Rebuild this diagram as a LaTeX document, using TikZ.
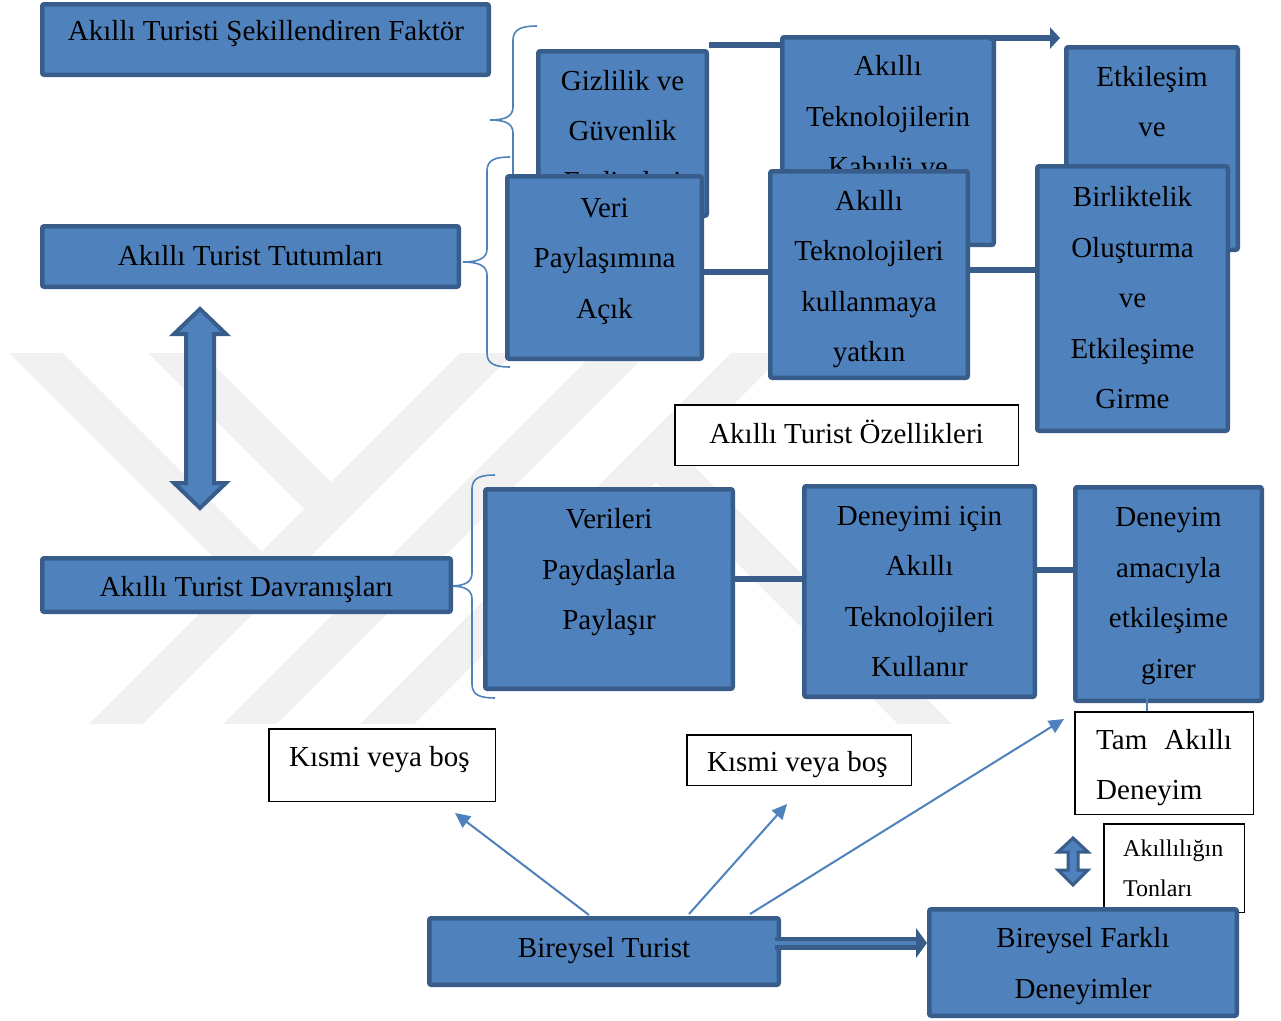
\documentclass[tikz,border=0pt]{standalone}
\usepackage{fontspec}
\setmainfont{Liberation Serif}
\usetikzlibrary{calc,arrows.meta}
\definecolor{bfill}{HTML}{4F81BD}
\definecolor{bdark}{HTML}{385D8A}
\definecolor{wmgray}{HTML}{F1F1F1}
\tikzset{
  bluebox/.style={draw=bdark, fill=bfill, line width=4.5pt, rounded corners=2pt, inner sep=0pt},
  whitebox/.style={draw=black, fill=white, line width=1.5pt, inner sep=0pt},
  txt/.style={font=\fontsize{29}{50.5}\selectfont, align=center, inner sep=0pt},
  txtl/.style={font=\fontsize{29}{50}\selectfont, align=left, inner sep=0pt, anchor=west},
  conn/.style={draw=bdark, line width=6.5pt},
  bigtip/.style={draw=bdark, line width=6pt, -{Triangle[length=10pt,width=21pt]}},
  thinarrow/.style={draw=bfill, line width=2pt, -{Triangle[length=15pt,width=14pt]}},
  thinline/.style={draw=bfill, line width=1.2pt},
  brace/.style={draw=bfill, line width=1.6pt},
  band/.style={draw=wmgray, line width=38pt},
  bigarr/.style={draw=bdark, fill=bfill, line width=4pt, line join=miter},
  smallarr/.style={draw=bdark, fill=bfill, line width=3pt, line join=miter},
  dblline/.style={draw=bdark, double=bfill, line width=4.5pt, double distance=4pt},
}
\begin{document}
\begin{tikzpicture}[x=1pt,y=-1pt]
\useasboundingbox (0,0) rectangle (1281,1020);
\fill[white] (0,0) rectangle (1281,1020);

% faint watermark
\begin{scope}
  \clip (0,353) rectangle (1281,723);
  \draw[band] (-4,313) -- (261,578);
  \draw[band] (135,313) -- (331,509);
  \draw[band] (77,763) -- (527,313);
  \draw[band] (211,763) -- (661,313);
  \draw[band] (348,763) -- (798,313);
  \draw[band] (656,455) -- (964,763);
\end{scope}

% braces
\draw[brace] (537,26) .. controls (522,26) and (513,29) .. (513,40) -- (513,107)
  .. controls (513,116) and (506,120) .. (490,120)
  .. controls (506,120) and (513,124) .. (513,133) -- (513,200)
  .. controls (513,211) and (522,214) .. (537,214);
\draw[brace] (510,157) .. controls (495,157) and (487,160) .. (487,171) -- (487,249)
  .. controls (487,258) and (479,262) .. (463,262)
  .. controls (479,262) and (487,266) .. (487,275) -- (487,353)
  .. controls (487,364) and (495,367) .. (510,367);
\draw[brace] (495,475) .. controls (480,475) and (472,478) .. (472,489) -- (472,573)
  .. controls (472,582) and (465,586) .. (450,586)
  .. controls (465,586) and (472,590) .. (472,599) -- (472,684)
  .. controls (472,695) and (480,698) .. (495,698);

% left column
\node[bluebox, minimum width=446.5pt, minimum height=70.5pt] (fak) at (265.5,39.5) {};
\node[txt] (fakt) at (266,34) {Akıllı Turisti Şekillendiren Faktör};
\node[bluebox, minimum width=416.5pt, minimum height=60.5pt] (tut) at (250.5,256.5) {};
\node[txt] (tutt) at (250.5,256) {Akıllı Turist Tutumları};
\node[bluebox, minimum width=408.5pt, minimum height=53.5pt] (dav) at (246.5,585) {};
\node[txt] (davt) at (246.5,590) {Akıllı Turist Davranışları};

% big double arrow
\coordinate (da) at (200,408.5);
\draw[bigarr] ($(da)+(0,-99.5)$) -- ($(da)+(26,-74.5)$) -- ($(da)+(14,-74.5)$) -- ($(da)+(14,74.5)$)
  -- ($(da)+(26,74.5)$) -- ($(da)+(0,99.5)$) -- ($(da)+(-26,74.5)$) -- ($(da)+(-14,74.5)$)
  -- ($(da)+(-14,-74.5)$) -- ($(da)+(-26,-74.5)$) -- cycle;

% top row (back)
\node[bluebox, minimum width=168.5pt, minimum height=164.5pt] (giz) at (622.5,133.5) {};
\node[txt] (gizt) at (622.5,134) {Gizlilik ve\\Güvenlik\\Endişeleri};
\coordinate (c1) at ($(giz.north east)+(0,-4)$);
\node[bluebox, minimum width=211.5pt, minimum height=207.5pt] (kab) at (888,141) {};
\draw[conn] (c1) -- (c1 -| kab.west);
\node[txt] (kabt) at (888,116.5) {Akıllı\\Teknolojilerin\\Kabulü ve};
\node[bluebox, minimum width=171.5pt, minimum height=202.5pt] (etk) at (1152,148.5) {};
\node[txt] (etkt) at (1152,101.5) {Etkileşim\\ve};
\coordinate (c2) at ($(kab.north east)+(-7,3)$);
\draw[bigtip] (c2) -- ($(c2 -| etk.west)+(-4,0)$);

% top row (front)
\node[bluebox, minimum width=194.5pt, minimum height=182.5pt] (veri) at (604.5,267.5) {};
\node[txt] (verit) at (604.5,261) {Veri\\Paylaşımına\\Açık};
\node[bluebox, minimum width=197.5pt, minimum height=206.5pt] (yat) at (869,274.5) {};
\node[txt] (yatt) at (869,279) {Akıllı\\Teknolojileri\\kullanmaya\\yatkın};
\node[bluebox, minimum width=190.5pt, minimum height=264.5pt] (bir) at (1132.5,298.5) {};
\node[txt] (birt) at (1132.5,298) {Birliktelik\\Oluşturma\\ve\\Etkileşime\\Girme};
\coordinate (c3) at ($(veri.east)+(0,4.5)$);
\draw[conn] (c3) -- (c3 -| yat.west);
\coordinate (c4) at ($(yat.east)+(0,-4.5)$);
\draw[conn] (c4) -- (c4 -| bir.west);

\node[whitebox, minimum width=343.5pt, minimum height=60.5pt] (oz) at (846.5,435) {};
\node[txt] (ozt) at (846.5,432) {Akıllı Turist Özellikleri};

% second row
\node[bluebox, minimum width=247.5pt, minimum height=199.5pt] (ver) at (609,589) {};
\node[txt] (vert) at (609,572.5) {Verileri\\Paydaşlarla\\Paylaşır};
\node[bluebox, minimum width=230.5pt, minimum height=210.5pt] (den) at (919.5,591.5) {};
\node[txt] (dent) at (919.5,591.5) {Deneyimi için\\Akıllı\\Teknolojileri\\Kullanır};
\node[bluebox, minimum width=186.5pt, minimum height=213.5pt] (dam) at (1168.5,594) {};
\node[txt] (damt) at (1168.5,596) {Deneyim\\amacıyla\\etkileşime\\girer};
\coordinate (c5) at ($(ver.east)+(0,-10)$);
\draw[conn] (c5) -- (c5 -| den.west);
\coordinate (c6) at ($(den.east)+(0,-21.5)$);
\draw[conn] (c6) -- (c6 -| dam.west);

% right bottom
\node[whitebox, minimum width=178.5pt, minimum height=102.5pt] (tam) at (1164,763) {};
\node[txtl] (tamt) at (1096,768) {Tam\hspace{17pt}Akıllı\\Deneyim};
\coordinate (c7) at ($(dam.south)+(-21.5,-14)$);
\draw[thinline] (c7) -- (c7 |- tam.north);
\node[whitebox, minimum width=140.5pt, minimum height=88.5pt] (ton) at (1174,868) {};
\node[txtl, font=\fontsize{24}{40}\selectfont] (tont) at (1123,868) {Akıllılığın\\Tonları};
\coordinate (sa) at (1073,861.5);
\draw[smallarr] ($(sa)+(0,-23.5)$) -- ($(sa)+(15,-9.5)$) -- ($(sa)+(5,-9.5)$) -- ($(sa)+(5,8.5)$)
  -- ($(sa)+(15,8.5)$) -- ($(sa)+(0,23.5)$) -- ($(sa)+(-15,8.5)$) -- ($(sa)+(-5,8.5)$)
  -- ($(sa)+(-5,-9.5)$) -- ($(sa)+(-15,-9.5)$) -- cycle;

% partial boxes
\node[whitebox, minimum width=226.5pt, minimum height=72.5pt] (ka) at (382,765) {};
\node[txtl] (kat) at (289,760) {Kısmi veya boş};
\node[whitebox, minimum width=224.5pt, minimum height=50.5pt] (kb) at (799,760) {};
\node[txtl] (kbt) at (707,765) {Kısmi veya boş};

% bottom row
\node[bluebox, minimum width=349.5pt, minimum height=66.5pt] (bt) at (604,951.5) {};
\node[txt] (btt) at (604,951) {Bireysel Turist};
\node[bluebox, minimum width=307.5pt, minimum height=106.5pt] (bf) at (1083,962.5) {};
\node[txt] (bft) at (1083,966) {Bireysel Farklı\\Deneyimler};

\coordinate (s1) at ($(bt.north)+(-15,-1)$);
\coordinate (e1) at ($(ka.south)+(73,11)$);
\draw[thinarrow] (s1) -- (e1);
\coordinate (s2) at ($(bt.north)+(85,-2)$);
\coordinate (e2) at ($(kb.south)+(-12,18)$);
\draw[thinarrow] (s2) -- (e2);
\coordinate (s3) at ($(bt.north)+(146,-2)$);
\coordinate (e3) at ($(tam.north west)+(-10,8)$);
\draw[thinarrow] (s3) -- (e3);

\coordinate (c8) at ($(bt.east)+(-6,-8.5)$);
\coordinate (c9) at (c8 -| bf.west);
\draw[dblline] (c8) -- ($(c9)+(-11,0)$);
\fill[bdark] (c9) -- ($(c9)+(-11,-15)$) -- ($(c9)+(-11,15)$) -- cycle;
\end{tikzpicture}
\end{document}
